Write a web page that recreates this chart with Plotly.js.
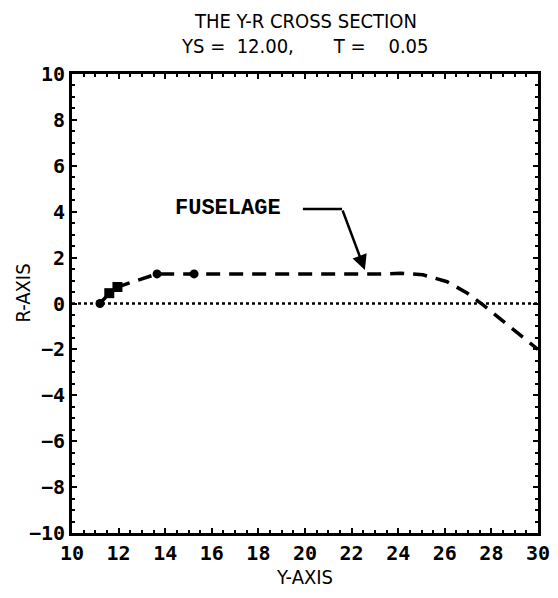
<!DOCTYPE html>
<html>
<head>
<meta charset="utf-8">
<script src="https://cdn.plot.ly/plotly-3.0.1.min.js"></script>
<style>html,body{margin:0;padding:0;background:#fff;}#chart{width:558px;height:598px;}</style>
</head>
<body>
<div id="chart"></div>
<script>
// Fuselage cross-section curve (Y, R)
const fuselageY = [11.2, 11.6, 11.95, 13.65, 15.24, 17.0, 19.0, 21.0, 23.2, 24.1, 25.06, 26.1, 26.95, 27.64, 28.37, 29.1, 30.0];
const fuselageR = [0.0, 0.45, 0.72, 1.29, 1.29, 1.28, 1.27, 1.27, 1.28, 1.32, 1.25, 0.95, 0.46, -0.06, -0.66, -1.3, -2.0];
// Marked points
const dotY = [11.2, 13.65, 15.24];
const dotR = [0.0, 1.29, 1.29];
const squareY = [11.6, 11.95];
const squareR = [0.45, 0.72];
// Reference line R = 0
const zeroY = [10, 30];
const zeroR = [0, 0];
// Ticks
const xTicks = [10, 12, 14, 16, 18, 20, 22, 24, 26, 28, 30];
const yTicks = [-10, -8, -6, -4, -2, 0, 2, 4, 6, 8, 10];
// Texts
const titleLine1 = 'THE Y-R CROSS SECTION';
const titleLine2 = 'YS =&nbsp;&nbsp;12.00,&nbsp;&nbsp;&nbsp;&nbsp;&nbsp;&nbsp;&nbsp;T =&nbsp;&nbsp;&nbsp;&nbsp;0.05';
const xTitle = 'Y-AXIS';
const yTitle = 'R-AXIS';
const curveLabel = 'FUSELAGE';

const labelFont = {family: 'Liberation Sans Narrow, DejaVu Sans Condensed, Arial Narrow, sans-serif', size: 20, color: '#000'};
const tickFont = {family: 'DejaVu Sans Mono, Liberation Mono, monospace', size: 20, color: '#000', weight: 'bold'};

const traces = [
  {x: zeroY, y: zeroR, mode: 'lines', line: {color: '#000', width: 2.5, dash: 'dot'}, hoverinfo: 'skip'},
  {x: fuselageY, y: fuselageR, mode: 'lines', line: {color: '#000', width: 3.5, dash: '14px,9px'}, hoverinfo: 'skip'},
  {x: dotY, y: dotR, mode: 'markers', marker: {symbol: 'circle', size: 9, color: '#000'}, hoverinfo: 'skip'},
  {x: squareY, y: squareR, mode: 'markers', marker: {symbol: 'square', size: 10, color: '#000'}, hoverinfo: 'skip'}
];

const axisCommon = {
  showgrid: false, zeroline: false, showline: true, linecolor: '#000', linewidth: 3,
  mirror: 'allticks', ticks: 'inside', ticklen: 5, tickwidth: 2, tickcolor: '#000',
  tickfont: tickFont,
  minor: {dtick: 0.5, ticks: 'inside', ticklen: 3, tickwidth: 2, tickcolor: '#000', showgrid: false}
};

const layout = {
  width: 558, height: 598,
  margin: {l: 72, r: 20, t: 74, b: 65},
  paper_bgcolor: '#fff', plot_bgcolor: '#fff',
  showlegend: false,
  xaxis: Object.assign({}, axisCommon, {
    range: [10, 30], tickvals: xTicks, ticktext: xTicks.map(String),
    title: {text: xTitle, font: labelFont, standoff: 6}
  }),
  yaxis: Object.assign({}, axisCommon, {
    range: [-10, 10], tickvals: yTicks, ticktext: yTicks.map(v => v < 0 ? '\u2212' + Math.abs(v) : String(v))
  }),
  shapes: [
    {type: 'line', xref: 'x', yref: 'y', x0: 19.91, y0: 4.12, x1: 21.59, y1: 4.12, line: {color: '#000', width: 2.5}}
  ],
  annotations: [
    {xref: 'paper', yref: 'paper', x: 0.5, y: 1, yshift: 53, text: titleLine1, showarrow: false, font: labelFont, xanchor: 'center', yanchor: 'middle'},
    {xref: 'paper', yref: 'paper', x: 0.5, y: 1, yshift: 28, text: titleLine2, showarrow: false, font: labelFont, xanchor: 'center', yanchor: 'middle'},
    {xref: 'paper', yref: 'paper', x: 0, xshift: -50, y: 0.5, yshift: 10, text: yTitle, textangle: -90, showarrow: false, font: labelFont, xanchor: 'center', yanchor: 'middle'},
    {x: 16.7, y: 4.16, xref: 'x', yref: 'y', text: '<b>' + curveLabel + '</b>', showarrow: false,
     font: {family: 'Liberation Mono, Courier New, monospace', size: 22, color: '#000'}},
    {x: 22.57, y: 1.46, ax: 21.59, ay: 4.12, axref: 'x', ayref: 'y', xref: 'x', yref: 'y',
     text: '', showarrow: true, arrowhead: 2, arrowsize: 1.2, arrowwidth: 2.5, arrowcolor: '#000'}
  ]
};

Plotly.newPlot('chart', traces, layout, {displayModeBar: false, staticPlot: true});
</script>
</body>
</html>
